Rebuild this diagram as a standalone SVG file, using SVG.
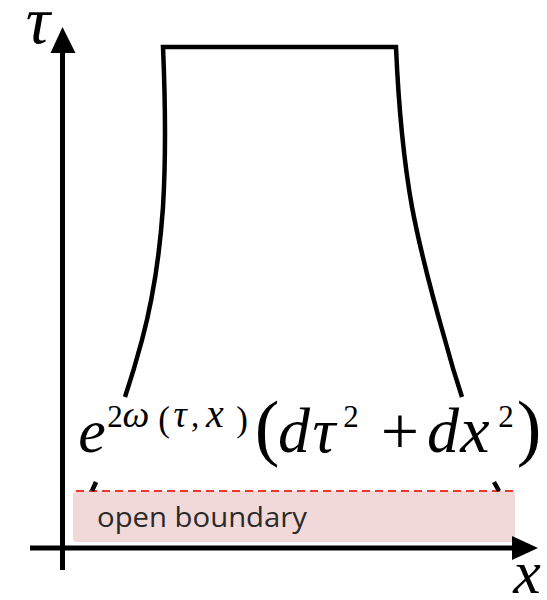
<svg xmlns="http://www.w3.org/2000/svg" width="547" height="600" viewBox="0 0 547 600">
<style>
.ax{stroke:#000;stroke-width:5;fill:none}
.sh{stroke:#000;stroke-width:4.5;fill:none;stroke-linejoin:miter}
.m{font-family:"Liberation Serif","Times New Roman",serif;fill:#000;text-anchor:middle}
.i{font-style:italic}
.lbl{font-family:"Open Sans","Liberation Sans",sans-serif;font-size:27px;fill:#2a2a2a}
</style>
<rect width="547" height="600" fill="#fff"/>
<g id="boundary">
<rect x="73" y="491" width="442" height="51" rx="4" fill="#f2d9d9"/>
<line x1="76" y1="491" x2="513" y2="491" stroke="#e8392b" stroke-width="2" stroke-dasharray="8 5"/>
<text class="lbl" x="97" y="527" textLength="210" lengthAdjust="spacingAndGlyphs">open boundary</text>
</g>
<g id="connectors">
<g id="tau-axis">
<line class="ax" x1="62.5" y1="570" x2="62.5" y2="50"/>
<polygon points="62.5,27 50.5,53 75.5,53" fill="#000"/>
</g>
<g id="x-axis">
<line class="ax" x1="30" y1="548" x2="515" y2="548"/>
<polygon points="538,548 512,536 512,560" fill="#000"/>
</g>
</g>
<g id="region">
<path class="sh" d="M125,397 Q134,370 142,340 Q158,280 163,207 Q167,140 163,47 L396,47 Q400,140 412,207 Q422,260 445,340 Q453,370 462,397"/>
<path class="sh" d="M96,482 L92,491"/>
<path class="sh" d="M494,482 L499,491"/>
</g>
<g id="labels">
<text class="m i" x="38" y="43" font-size="68">τ</text>
<text class="m i" x="527" y="593" font-size="62">x</text>
</g>
<g id="formula">
<text class="m i" x="92" y="452" font-size="62">e</text>
<text class="m" x="115" y="427" font-size="31">2</text>
<text class="m i" x="136" y="427" font-size="38">ω</text>
<text class="m" x="164" y="431" font-size="35">(</text>
<text class="m i" x="180" y="427" font-size="37">τ</text>
<text class="m" x="195" y="427" font-size="33">,</text>
<text class="m i" x="215" y="427" font-size="40">x</text>
<text class="m" x="242" y="431" font-size="35">)</text>
<text class="m" x="267" y="452" font-size="74">(</text>
<text class="m i" x="294" y="452" font-size="64">d</text>
<text class="m i" x="324" y="452" font-size="64">τ</text>
<text class="m" x="351" y="427" font-size="31">2</text>
<text class="m" x="400" y="454" font-size="68">+</text>
<text class="m i" x="443" y="452" font-size="64">d</text>
<text class="m i" x="475" y="452" font-size="66">x</text>
<text class="m" x="506" y="427" font-size="31">2</text>
<text class="m" x="529" y="452" font-size="74">)</text>
</g>
</svg>
